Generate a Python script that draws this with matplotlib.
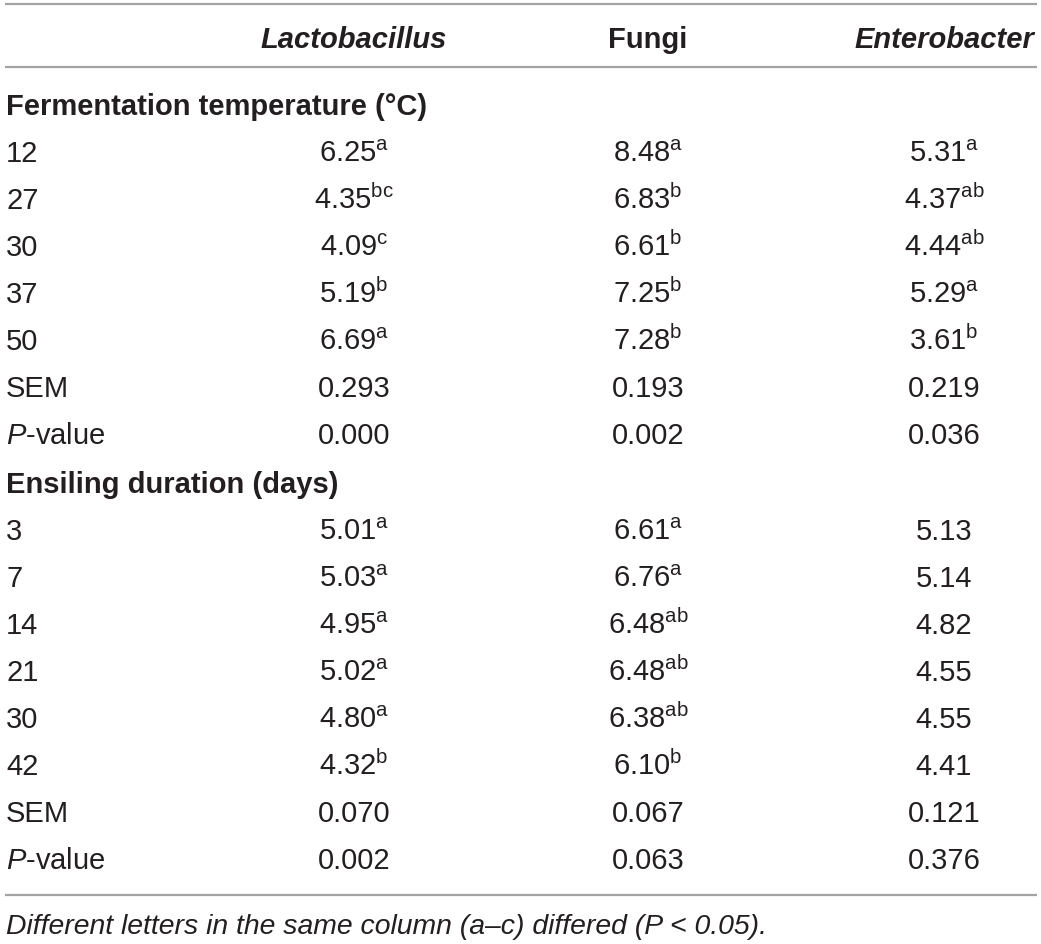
import matplotlib
matplotlib.use('Agg')
import matplotlib.pyplot as plt

plt.rcParams['font.family'] = ['Liberation Sans', 'DejaVu Sans']
plt.rcParams['mathtext.fontset'] = 'custom'
plt.rcParams['mathtext.rm'] = 'Liberation Sans'
plt.rcParams['mathtext.it'] = 'Liberation Sans:italic'
plt.rcParams['mathtext.bf'] = 'Liberation Sans:bold'

# Table data
col_headers = ['Lactobacillus', 'Fungi', 'Enterobacter']
col_italic = [True, False, True]

temp_title = 'Fermentation temperature (°C)'
temp_levels = ['12', '27', '30', '37', '50']
temp_lacto = ['6.25', '4.35', '4.09', '5.19', '6.69']
temp_lacto_sup = ['a', 'bc', 'c', 'b', 'a']
temp_fungi = ['8.48', '6.83', '6.61', '7.25', '7.28']
temp_fungi_sup = ['a', 'b', 'b', 'b', 'b']
temp_entero = ['5.31', '4.37', '4.44', '5.29', '3.61']
temp_entero_sup = ['a', 'ab', 'ab', 'a', 'b']
temp_sem = ['0.293', '0.193', '0.219']
temp_p = ['0.000', '0.002', '0.036']

ens_title = 'Ensiling duration (days)'
ens_levels = ['3', '7', '14', '21', '30', '42']
ens_lacto = ['5.01', '5.03', '4.95', '5.02', '4.80', '4.32']
ens_lacto_sup = ['a', 'a', 'a', 'a', 'a', 'b']
ens_fungi = ['6.61', '6.76', '6.48', '6.48', '6.38', '6.10']
ens_fungi_sup = ['a', 'a', 'ab', 'ab', 'ab', 'b']
ens_entero = ['5.13', '5.14', '4.82', '4.55', '4.55', '4.41']
ens_entero_sup = ['', '', '', '', '', '']
ens_sem = ['0.070', '0.067', '0.121']
ens_p = ['0.002', '0.063', '0.376']

footnote = 'Different letters in the same column (a\u2013c) differed (P < 0.05).'

# Layout (pixels)
W, H = 1041, 945
col_x = [354, 648, 944]
label_x = 6
step = 47
fs = 21
txt_color = '#231f20'
line_color = '#a3a3a3'


def cell(v, s):
    return v + (r'$^{\mathrm{' + s + '}}$' if s else '')


fig = plt.figure(figsize=(W / 100, H / 100), dpi=100)
ax = fig.add_axes([0, 0, 1, 1])
ax.set_xlim(0, W)
ax.set_ylim(H, 0)
ax.axis('off')


def put(x, y, s, ha='center', **kw):
    # y is the visual centre of capitals; draw on baseline
    ax.text(x, y + 10, s, ha=ha, va='baseline', fontsize=kw.pop('size', fs),
            color=txt_color, **kw)


# rules
for yl in (5, 68, 896):
    ax.plot([5, 1037], [yl, yl], color=line_color, lw=1.6, solid_capstyle='butt')

# header
for x, h, it in zip(col_x, col_headers, col_italic):
    put(x, 38, h, fontweight='bold', style='italic' if it else 'normal')


def block(y0, title, levels, cols, sups, sem, p):
    put(label_x, y0, title, ha='left', fontweight='bold')
    y = y0 + step
    for i, lev in enumerate(levels):
        put(label_x, y, lev, ha='left')
        for x, c, s in zip(col_x, cols, sups):
            put(x, y, cell(c[i], s[i]))
        y += step
    put(label_x, y, 'SEM', ha='left')
    for x, v in zip(col_x, sem):
        put(x, y, v)
    y += step
    put(label_x, y, r'$\mathit{P}$-value', ha='left')
    for x, v in zip(col_x, p):
        put(x, y, v)
    return y + step + 2


y_next = block(105, temp_title, temp_levels,
               [temp_lacto, temp_fungi, temp_entero],
               [temp_lacto_sup, temp_fungi_sup, temp_entero_sup],
               temp_sem, temp_p)
block(y_next, ens_title, ens_levels,
      [ens_lacto, ens_fungi, ens_entero],
      [ens_lacto_sup, ens_fungi_sup, ens_entero_sup],
      ens_sem, ens_p)

ax.text(label_x, 934, footnote, ha='left', va='baseline', fontsize=20.4,
        style='italic', color=txt_color)

fig.savefig('out.png', dpi=100)
